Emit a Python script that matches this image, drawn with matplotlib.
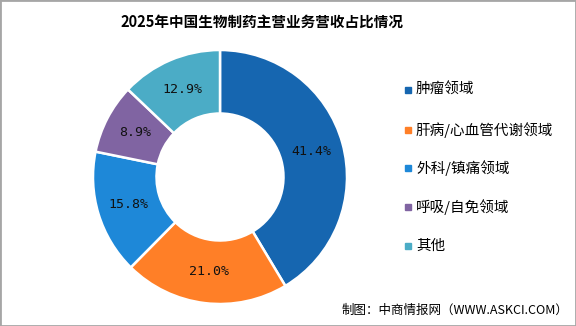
import matplotlib.pyplot as plt
from matplotlib.patches import Rectangle
import numpy as np

plt.rcParams['font.family'] = ['Noto Sans CJK SC', 'DejaVu Sans']

# データ
categories = ["肿瘤领域", "肝病/心血管代谢领域", "外科/镇痛领域", "呼吸/自免领域", "其他"]
shares = [41.4, 21.0, 15.8, 8.9, 12.9]
colors = ["#1666b0", "#ff7f27", "#1e88d8", "#8064a2", "#4bacc6"]

W, H = 576, 326
fig = plt.figure(figsize=(W / 100, H / 100), dpi=100)

# 外枠
fig.patches.append(Rectangle((0, 0), 1, 1, transform=fig.transFigure,
                             fill=False, edgecolor="#a6a6a6", linewidth=2))

cx, cy, r = 220, 177, 127
ax = fig.add_axes([(cx - r) / W, (H - cy - r) / H, 2 * r / W, 2 * r / H])
wedges, _ = ax.pie(shares, colors=colors, startangle=90, counterclock=False,
                   radius=1.0, wedgeprops=dict(width=0.5, edgecolor="white", linewidth=1.8))
ax.set_xlim(-1, 1)
ax.set_ylim(-1, 1)
ax.set_aspect("equal")
ax.axis("off")

# ラベル
start = 90.0
for s in shares:
    mid = np.deg2rad(start - s * 3.6 / 2)
    ax.text(0.75 * np.cos(mid), 0.75 * np.sin(mid), f"{s:.1f}%",
            ha="center", va="center", fontsize=9.5, color="#111111",
            family=["DejaVu Sans Mono"])
    start -= s * 3.6

# タイトル
fig.text(0.455, 1 - 22 / H, "2025年中国生物制药主营业务营收占比情况",
         ha="center", va="center", fontsize=10.5, fontweight="bold")

# 凡例
ys = [90, 130, 168, 207, 246]
for cat, col, y in zip(categories, colors, ys):
    fig.patches.append(Rectangle((405 / W, 1 - (y + 3) / H), 6 / W, 6 / H,
                                 transform=fig.transFigure, color=col))
    fig.text(416 / W, 1 - y / H, cat, fontsize=10.5, va="center", ha="left")

# 出典
fig.text(342 / W, 1 - 310 / H, "制图：中商情报网（WWW.ASKCI.COM）",
         ha="left", va="center", fontsize=9)

fig.savefig("out.png", dpi=100)
